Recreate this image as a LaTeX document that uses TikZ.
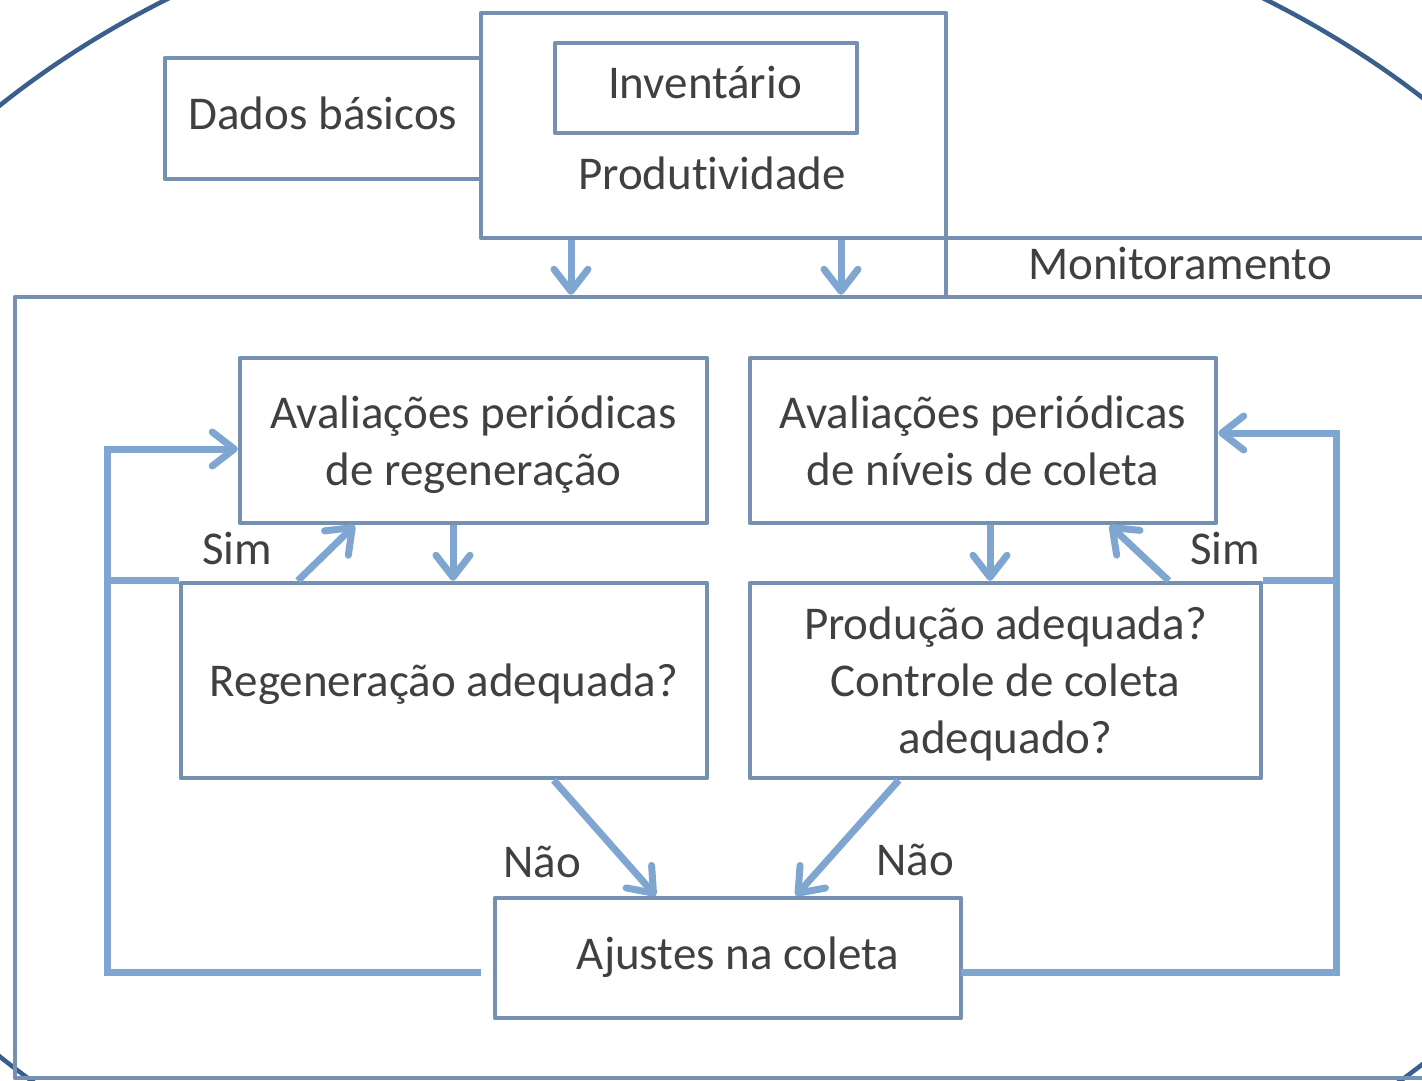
\documentclass[tikz,border=0pt]{standalone}
\usepackage{fontspec}
\setmainfont[Ligatures={NoCommon,NoContextual}]{Carlito}
\usetikzlibrary{arrows.meta,calc}
\definecolor{boxc}{RGB}{117,144,176}
\definecolor{connc}{RGB}{126,166,208}
\definecolor{ellc}{RGB}{58,95,140}
\definecolor{txtc}{RGB}{64,64,64}
\newcommand{\nodp}[1]{\raisebox{0pt}[\height][0pt]{#1}}
\tikzset{
  box/.style={draw=boxc, line width=4.5pt, fill=white, line join=round, inner sep=0pt,
    align=center, text=txtc, font=\fontsize{47}{57}\selectfont},
  lbl/.style={text=txtc, font=\fontsize{47}{57}\selectfont, inner sep=0pt},
  conn/.style={draw=connc, line width=7pt},
  tip/.style={-{Straight Barb[length=22pt,width=34pt,round]}}
}
\begin{document}
\begin{tikzpicture}[x=1pt,y=-1pt]
\useasboundingbox (0,0) rectangle (1422,1081);
\clip (0,0) rectangle (1422,1081);
\fill[white] (0,0) rectangle (1422,1081);
% background ellipse
\draw[ellc, line width=4.5pt] (716,581) ellipse [x radius=969pt, y radius=706pt];
% outer frame and tab
\node[box, fill=none, minimum width=1425pt, minimum height=781pt] (frame) at (727.5,687.5) {};
\node[box, fill=none, minimum width=494pt, minimum height=59pt] (tab) at (1193,267.5) {};
\node[lbl] (montxt) at (1180,264) {Monitoramento};
% top boxes
\node[box, minimum width=316pt, minimum height=121pt] (dados) at (323,118.5) {};
\node[lbl] (dadostxt) at (323,113) {Dados básicos};
\node[box, minimum width=465pt, minimum height=225pt] (top) at (713.5,125.5) {};
\node[box, minimum width=302pt, minimum height=90pt] (inv) at (706,88) {};
\node[lbl] (invtxt) at (705,83) {Inventário};
\node[lbl] (prodtxt) at (712,173) {Produt\kern0pt ividade};
% main boxes
\node[box, minimum width=467pt, minimum height=165pt] (avreg) at (473.5,440.5) {Avaliações periódicas\\\nodp{de regeneração}};
\node[box, minimum width=466pt, minimum height=165pt] (avcol) at (983,440.5) {Avaliações periódicas\\de níveis de coleta};
\node[box, minimum width=526pt, minimum height=195pt] (regen) at (444,680.5) {\nodp{Regeneração adequada?}};
\node[box, minimum width=511pt, minimum height=195pt] (produc) at (1005.5,680.5) {Produção adequada?\\Controle de coleta\\\nodp{adequado?}};
\node[box, minimum width=466pt, minimum height=120pt] (ajustes) at (728,958) {};
\node[lbl] (ajtxt) at (738,957) {Ajustes na coleta};
% labels
\node[lbl] (sim1) at (237,548) {Sim};
\node[lbl] (sim2) at (1225,548) {Sim};
\node[lbl] (nao1) at (542,862) {Não};
\node[lbl] (nao2) at (915,860) {Não};
% loop coordinates
\coordinate (lgap) at (481,972);
\coordinate (lc1) at (107,972);
\coordinate (lc2) at (107,449);
\coordinate (rgap) at (961,972);
\coordinate (rc1) at (1336,972);
\coordinate (rc2) at (1336,433);
% top arrows
\draw[conn,tip] ([xshift=-142.5pt]top.south) -- ([xshift=-142.5pt]top.south |- frame.north);
\draw[conn,tip] ([xshift=127.5pt]top.south) -- ([xshift=127.5pt]top.south |- frame.north);
% inner arrows
\draw[conn,tip] ([xshift=-20.5pt]avreg.south) -- ([xshift=-20.5pt]avreg.south |- regen.north);
\draw[conn,tip] ([xshift=7pt]avcol.south) -- ([xshift=7pt]avcol.south |- produc.north);
\draw[conn,tip] ([xshift=119pt]regen.north west) -- ([xshift=117pt]avreg.south west);
\draw[conn,tip] ([xshift=421pt]produc.north west) -- ([xshift=362pt]avcol.south west);
\draw[conn,tip] ([xshift=375pt]regen.south west) -- ([xshift=163pt]ajustes.north west);
\draw[conn,tip] ([xshift=151pt]produc.south west) -- ([xshift=303pt]ajustes.north west);
% loops
\draw[conn,tip] (lgap) -- (lc1) -- (lc2) -- (lc2 -| avreg.west);
\draw[conn] (regen.north west) -- (regen.north west -| lc1);
\draw[conn,tip] (rgap) -- (rc1) -- (rc2) -- (rc2 -| avcol.east);
\draw[conn] (produc.north east) -- (produc.north east -| rc1);
\end{tikzpicture}
\end{document}
